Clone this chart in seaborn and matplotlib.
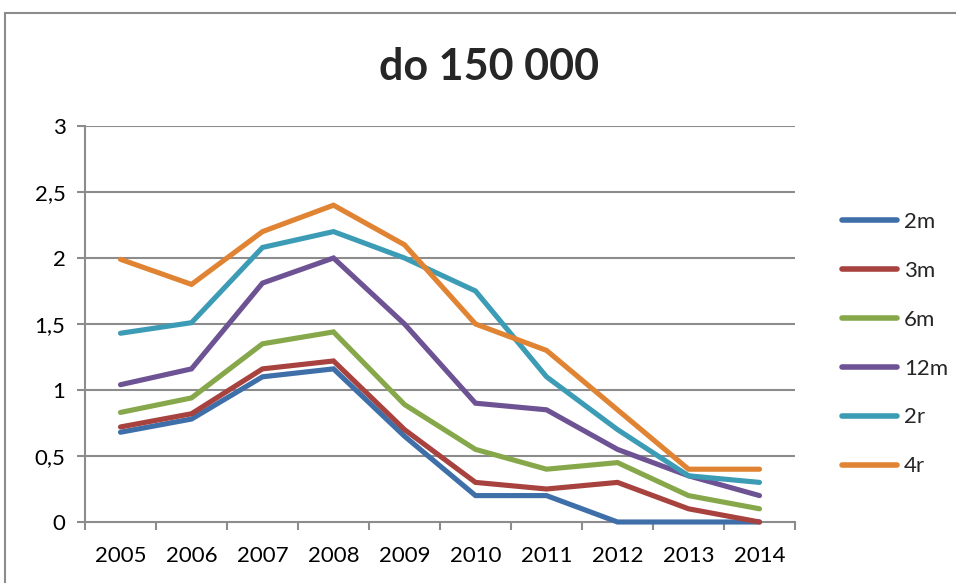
import matplotlib
matplotlib.use("Agg")
import matplotlib.pyplot as plt
import seaborn as sns
import pandas as pd
from matplotlib.patches import Rectangle

years = ["2005", "2006", "2007", "2008", "2009", "2010", "2011", "2012", "2013", "2014"]
series_names = ["2m", "3m", "6m", "12m", "2r", "4r"]
s_2m = [0.68, 0.78, 1.10, 1.16, 0.65, 0.20, 0.20, 0.00, 0.00, 0.00]
s_3m = [0.72, 0.82, 1.16, 1.22, 0.70, 0.30, 0.25, 0.30, 0.10, 0.00]
s_6m = [0.83, 0.94, 1.35, 1.44, 0.89, 0.55, 0.40, 0.45, 0.20, 0.10]
s_12m = [1.04, 1.16, 1.81, 2.00, 1.50, 0.90, 0.85, 0.55, 0.35, 0.20]
s_2r = [1.43, 1.51, 2.08, 2.20, 2.00, 1.75, 1.10, 0.70, 0.35, 0.30]
s_4r = [1.99, 1.80, 2.20, 2.40, 2.10, 1.50, 1.30, 0.85, 0.40, 0.40]
y_ticks = [0, 0.5, 1, 1.5, 2, 2.5, 3]
y_tick_labels = ["0", "0,5", "1", "1,5", "2", "2,5", "3"]
title = "do 150 000"

colors = ["#3F6FA8", "#A8423F", "#86A84A", "#6E5394", "#3D9CB5", "#E08434"]

values = [s_2m, s_3m, s_6m, s_12m, s_2r, s_4r]
rows = []
for name, vals in zip(series_names, values):
    for i, v in enumerate(vals):
        rows.append({"x": i, "year": years[i], "series": name, "value": v})
df = pd.DataFrame(rows)

sns.set_theme(style="white")
plt.rcParams["font.family"] = ["Lato", "DejaVu Sans"]

fig = plt.figure(figsize=(9.56, 5.83), dpi=100)
ax = fig.add_axes([85 / 956, 1 - 522 / 583, (795 - 85) / 956, (522 - 126) / 583])

sns.lineplot(data=df, x="x", y="value", hue="series", hue_order=series_names,
             palette=colors, linewidth=3.7, ax=ax, legend=True,
             solid_capstyle="round", solid_joinstyle="miter")
for line in ax.get_lines():
    line.set_clip_on(False)

ax.set_xlim(-0.5, 9.5)
ax.set_ylim(0, 3)
ax.set_yticks(y_ticks)
ax.set_yticklabels(y_tick_labels)
ax.set_xticks(range(len(years)))
ax.set_xticklabels(years)
ax.set_xticks([i - 0.5 for i in range(len(years) + 1)], minor=True)
ax.set_xlabel("")
ax.set_ylabel("")

for y in y_ticks[1:]:
    ax.axhline(y, color="#8C8C8C", lw=1.5, zorder=0)

for side in ["top", "right"]:
    ax.spines[side].set_visible(False)
for side in ["left", "bottom"]:
    ax.spines[side].set_color("#8C8C8C")
    ax.spines[side].set_linewidth(1.5)
    ax.spines[side].set_zorder(0.5)

ax.tick_params(axis="x", which="major", length=0, labelsize=16, pad=17, colors="black")
ax.tick_params(axis="x", which="minor", length=6, width=1.5, color="#8C8C8C", direction="out", bottom=True)
ax.tick_params(axis="y", which="major", length=6, width=1.5, color="#8C8C8C", direction="out",
               labelsize=16, pad=8, left=True, labelcolor="black")

leg = ax.legend(loc="upper left", bbox_to_anchor=(833 / 956, 1 - 203 / 583),
                bbox_transform=fig.transFigure, frameon=False, fontsize=16,
                handlelength=2.5, handletextpad=0.3, labelspacing=1.3, borderaxespad=0)
for line in leg.get_lines():
    line.set_linewidth(4)
    line.set_solid_capstyle("round")

fig.text(489 / 956, 1 - 67 / 583, title, ha="center", va="center", fontsize=31, fontweight="bold")

fig.patches.append(Rectangle((5 / 956, -0.2), 1.2, 1.2 - 13 / 583, transform=fig.transFigure,
                             fill=False, edgecolor="#8C8C8C", lw=1.5, clip_on=False))

fig.savefig("out.png", dpi=100)
